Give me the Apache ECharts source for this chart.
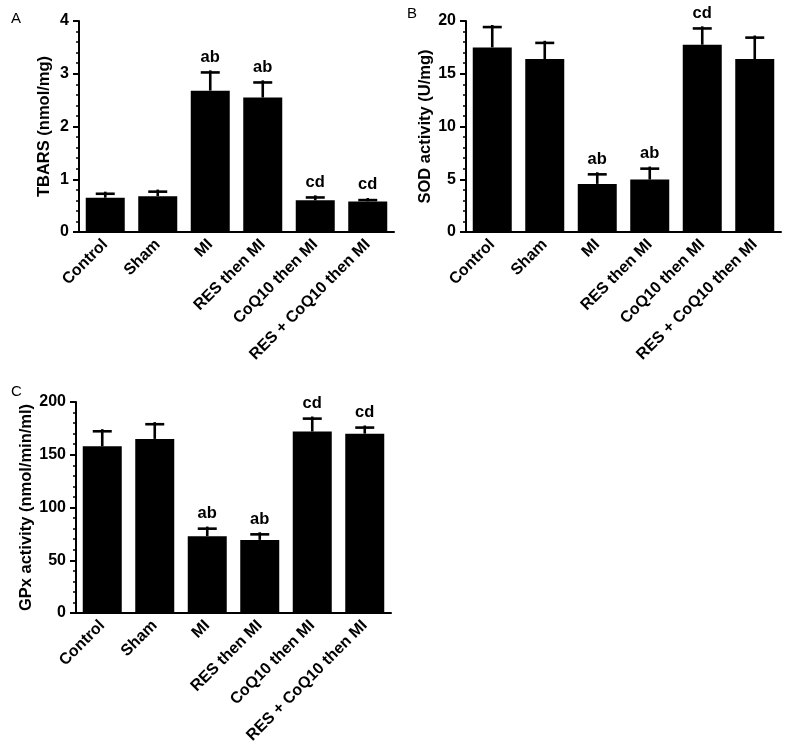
<!DOCTYPE html>
<html>
<head>
<meta charset="utf-8">
<script src="https://cdn.jsdelivr.net/npm/echarts@6/dist/echarts.min.js"></script>
<style>html,body{margin:0;padding:0;background:#fff;}#chart{width:800px;height:748px;}</style>
</head>
<body>
<div id="chart"></div>
<script>
var categories = ['Control', 'Sham', 'MI', 'RES then MI', 'CoQ10 then MI', 'RES + CoQ10 then MI'];

var tbarsMean = [0.65, 0.68, 2.68, 2.55, 0.60, 0.58];
var tbarsUpper = [0.74, 0.78, 3.04, 2.85, 0.67, 0.62];
var tbarsAnn = ['', '', 'ab', 'ab', 'cd', 'cd'];

var sodMean = [17.5, 16.4, 4.56, 4.97, 17.75, 16.4];
var sodUpper = [19.5, 18.0, 5.54, 6.08, 19.37, 18.5];
var sodAnn = ['', '', 'ab', 'ab', 'cd', ''];

var gpxMean = [158, 165, 72.8, 69.3, 172, 170];
var gpxUpper = [173, 179.7, 80.7, 75.3, 185, 176.5];
var gpxAnn = ['', '', 'ab', 'ab', 'cd', 'cd'];

var FONT = '"Liberation Sans", Arial, Helvetica, sans-serif';

function errRender(ann) {
  return function (params, api) {
    var idx = params.dataIndex;
    var x = api.value(0), mean = api.value(1), hi = api.value(2);
    var p0 = api.coord([x, mean]);
    var p1 = api.coord([x, hi]);
    var cap = 9.5;
    var lw = 2.6;
    var children = [
      {type: 'line', shape: {x1: p0[0], y1: p0[1], x2: p1[0], y2: p1[1] - lw / 2}, style: {stroke: '#000', lineWidth: lw}},
      {type: 'line', shape: {x1: p1[0] - cap, y1: p1[1] + lw / 2 - 0.5, x2: p1[0] + cap, y2: p1[1] + lw / 2 - 0.5}, style: {stroke: '#000', lineWidth: lw}}
    ];
    if (ann[idx]) {
      children.push({type: 'text', style: {text: ann[idx], x: p1[0], y: p1[1] - 6, align: 'center', verticalAlign: 'bottom',
        font: 'bold 16.5px ' + FONT, fill: '#000'}});
    }
    return {type: 'group', children: children};
  };
}

function errData(mean, upper) {
  return mean.map(function (m, i) { return [i, m, upper[i]]; });
}

function xAxis(gi) {
  return {
    type: 'category', gridIndex: gi, data: categories,
    axisLine: {lineStyle: {color: '#000', width: 2}},
    axisTick: {alignWithLabel: true, length: 5, lineStyle: {color: '#000', width: 2}},
    axisLabel: {rotate: 45, margin: 10, color: '#000', fontWeight: 'bold', fontSize: 16, fontFamily: FONT, interval: 0},
    splitLine: {show: false}
  };
}

function yAxis(gi, max, interval, name, gap) {
  return {
    type: 'value', gridIndex: gi, min: 0, max: max, interval: interval,
    name: name, nameLocation: 'middle', nameGap: gap,
    nameTextStyle: {color: '#000', fontWeight: 'bold', fontSize: 16.5, fontFamily: FONT},
    axisLine: {show: true, lineStyle: {color: '#000', width: 2}},
    axisTick: {show: true, length: 6, lineStyle: {color: '#000', width: 2}},
    minorTick: {show: true, splitNumber: 5, length: 3, lineStyle: {color: '#000', width: 1.5}},
    axisLabel: {margin: 10, color: '#000', fontWeight: 'bold', fontSize: 16, fontFamily: FONT},
    splitLine: {show: false},
    minorSplitLine: {show: false}
  };
}

var chart = echarts.init(document.getElementById('chart'), null, {renderer: 'canvas'});
chart.setOption({
  backgroundColor: '#fff',
  animation: false,
  title: [
    {text: 'A', left: 6, top: 6, textStyle: {fontSize: 15, fontWeight: 'normal', color: '#000', fontFamily: FONT}},
    {text: 'B', left: 402, top: 1, textStyle: {fontSize: 15, fontWeight: 'normal', color: '#000', fontFamily: FONT}},
    {text: 'C', left: 6, top: 379, textStyle: {fontSize: 15, fontWeight: 'normal', color: '#000', fontFamily: FONT}}
  ],
  grid: [
    {left: 79, top: 21, width: 315, height: 211},
    {left: 466, top: 21, width: 315, height: 211},
    {left: 76, top: 402, width: 315, height: 211}
  ],
  xAxis: [xAxis(0), xAxis(1), xAxis(2)],
  yAxis: [
    yAxis(0, 4, 1, 'TBARS (nmol/mg)', 26),
    yAxis(1, 20, 5, 'SOD activity (U/mg)', 32),
    yAxis(2, 200, 50, 'GPx activity (nmol/min/ml)', 40)
  ],
  series: [
    {type: 'bar', xAxisIndex: 0, yAxisIndex: 0, data: tbarsMean, barWidth: 39, itemStyle: {color: '#000'}},
    {type: 'custom', xAxisIndex: 0, yAxisIndex: 0, renderItem: errRender(tbarsAnn), data: errData(tbarsMean, tbarsUpper), encode: {x: 0, y: [1, 2]}, z: 5},
    {type: 'bar', xAxisIndex: 1, yAxisIndex: 1, data: sodMean, barWidth: 39, itemStyle: {color: '#000'}},
    {type: 'custom', xAxisIndex: 1, yAxisIndex: 1, renderItem: errRender(sodAnn), data: errData(sodMean, sodUpper), encode: {x: 0, y: [1, 2]}, z: 5},
    {type: 'bar', xAxisIndex: 2, yAxisIndex: 2, data: gpxMean, barWidth: 39, itemStyle: {color: '#000'}},
    {type: 'custom', xAxisIndex: 2, yAxisIndex: 2, renderItem: errRender(gpxAnn), data: errData(gpxMean, gpxUpper), encode: {x: 0, y: [1, 2]}, z: 5}
  ]
});
</script>
</body>
</html>
